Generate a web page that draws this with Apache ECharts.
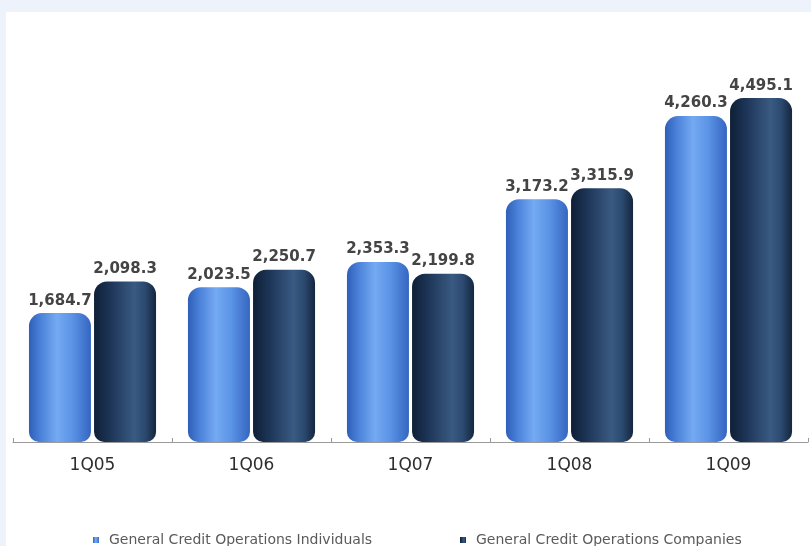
<!DOCTYPE html>
<html>
<head>
<meta charset="utf-8">
<script src="https://cdn.jsdelivr.net/npm/echarts@6/dist/echarts.min.js"></script>
<style>
  html, body { margin: 0; padding: 0; background: #eef2fb; }
  #chart { width: 811px; height: 546px; }
</style>
</head>
<body>
<div id="chart"></div>
<script>
// Quarterly credit operations (R$ million)
const quarters = ['1Q05', '1Q06', '1Q07', '1Q08', '1Q09'];
const individuals = [1684.7, 2023.5, 2353.3, 3173.2, 4260.3];
const companies = [2098.3, 2250.7, 2199.8, 3315.9, 4495.1];
const seriesNames = ['General Credit Operations Individuals', 'General Credit Operations Companies'];

const chart = echarts.init(document.getElementById('chart'), null, { renderer: 'canvas' });

// Horizontal gradients give each bar a rounded, cylinder-like shading
const lightBlue = new echarts.graphic.LinearGradient(0, 0, 1, 0, [
  { offset: 0, color: '#2f5fb8' },
  { offset: 0.18, color: '#4a80d8' },
  { offset: 0.45, color: '#74aaf2' },
  { offset: 0.7, color: '#5b93e6' },
  { offset: 1, color: '#3566c0' }
]);
const darkNavy = new echarts.graphic.LinearGradient(0, 0, 1, 0, [
  { offset: 0, color: '#0f1f36' },
  { offset: 0.25, color: '#1c3456' },
  { offset: 0.65, color: '#3a5a82' },
  { offset: 0.82, color: '#2c4a70' },
  { offset: 1, color: '#14263f' }
]);

const fmt = v => v.toLocaleString('en-US', { minimumFractionDigits: 1, maximumFractionDigits: 1 });

const valueLabel = {
  show: true,
  position: 'top',
  distance: 5,
  fontFamily: 'DejaVu Sans',
  fontSize: 15,
  fontWeight: 'bold',
  color: '#444444',
  formatter: p => fmt(p.value)
};

const legendText = {
  fontFamily: 'DejaVu Sans',
  fontSize: 14,
  color: '#5a5a5a',
  padding: [0, 0, 0, 5]
};

chart.setOption({
  backgroundColor: '#eef2fb',
  animation: false,
  color: ['#4a80d8', '#1c3456'],
  graphic: [{
    type: 'rect',
    z: -10,
    shape: { x: 6, y: 12, width: 805, height: 534 },
    style: { fill: '#ffffff' },
    silent: true
  }],
  legend: [
    {
      data: [seriesNames[0]],
      left: 88, top: 528,
      icon: 'rect', itemWidth: 6, itemHeight: 6,
      textStyle: legendText
    },
    {
      data: [seriesNames[1]],
      left: 455, top: 528,
      icon: 'rect', itemWidth: 6, itemHeight: 6,
      textStyle: legendText
    }
  ],
  grid: { left: 13, right: 3, top: 59.5, bottom: 104, containLabel: false },
  xAxis: {
    type: 'category',
    data: quarters,
    axisLine: { lineStyle: { color: '#9a9a9a', width: 1 } },
    axisTick: { show: true, inside: true, length: 4, lineStyle: { color: '#9a9a9a' } },
    axisLabel: {
      fontFamily: 'DejaVu Sans',
      fontSize: 17,
      color: '#2e2e2e',
      margin: 15
    }
  },
  yAxis: {
    type: 'value',
    min: 0,
    max: 5000,
    show: false,
    splitLine: { show: false }
  },
  series: [
    {
      name: seriesNames[0],
      type: 'bar',
      data: individuals,
      barWidth: 62,
      barGap: '5%',
      itemStyle: { color: lightBlue, borderRadius: [13, 13, 10, 10] },
      label: valueLabel
    },
    {
      name: seriesNames[1],
      type: 'bar',
      data: companies,
      barWidth: 62,
      itemStyle: { color: darkNavy, borderRadius: [13, 13, 10, 10] },
      label: valueLabel
    }
  ]
});
</script>
</body>
</html>
